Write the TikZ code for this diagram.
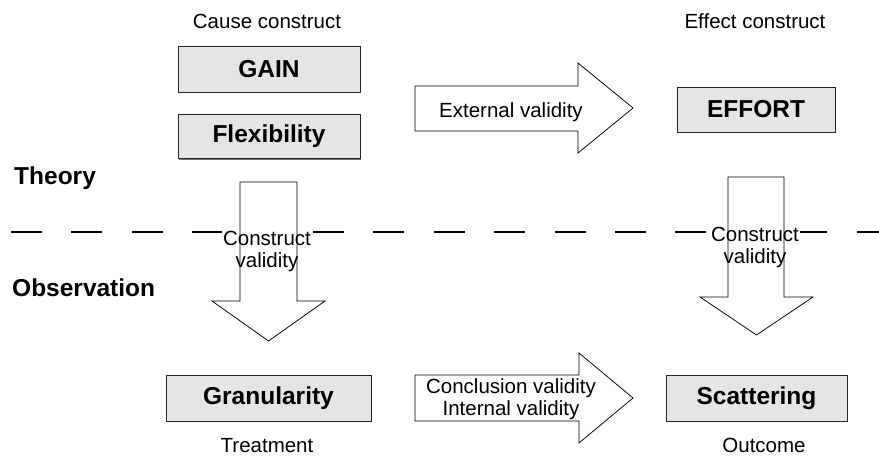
\documentclass[tikz,border=0pt]{standalone}
\usepackage{fontspec}
\setmainfont{Liberation Sans}
\usetikzlibrary{shadows}
\begin{document}
\begin{tikzpicture}[x=1pt,y=-1pt,
  construct/.style={draw=black!85, line width=0.8pt, fill=black!10,
    inner sep=0pt, font=\fontsize{24.5}{26}\selectfont\bfseries,
    drop shadow={shadow xshift=0.8pt, shadow yshift=-1.3pt, fill=black!55, opacity=1}},
  caption/.style={inner sep=0pt, font=\fontsize{20.5}{22}\selectfont},
  level/.style={inner sep=0pt, font=\fontsize{24.5}{26}\selectfont\bfseries},
  arrowtext/.style={inner sep=1pt, align=center, font=\fontsize{20.5}{22}\selectfont},
  blockarrow/.style={draw=black, line width=0.75pt, line join=miter},
  divider/.style={line width=2.6pt, dash pattern=on 31pt off 29.4pt}]

% canvas
\fill[white] (0,0) rectangle (879,456);
\useasboundingbox (0,0) rectangle (879,456);

% theory / observation divider
\coordinate (divL) at (11,232);
\coordinate (divR) at (879,232);
\draw[divider] (divL) -- (divR);

% level labels
\node[level, anchor=base west] (theory) at (14,184.5) {Theory};
\node[level, anchor=base west] (observation) at (12,296) {Observation};

% column headings and footers
\node[caption, anchor=base] (cause) at (267,28) {Cause construct};
\node[caption, anchor=base] (effect) at (755,28) {Effect construct};
\node[caption, anchor=base] (treatment) at (267,452) {Treatment};
\node[caption, anchor=base] (outcome) at (764,452) {Outcome};

% constructs and observations
\node[construct, minimum width=182pt, minimum height=46pt] (gain) at (269,69) {GAIN};
\node[construct, minimum width=182pt, minimum height=44pt] (flex) at (269,136.5) {Flexibility};
\node[construct, minimum width=158pt, minimum height=45pt] (effort) at (756,109.5) {EFFORT};
\node[construct, minimum width=205pt, minimum height=46pt] (gran) at (268.5,398) {Granularity};
\node[construct, minimum width=181pt, minimum height=46pt] (scat) at (756.5,398) {Scattering};

% validity labels (white ground hides the divider behind them)
\node[arrowtext, fill=white] (cvleft) at (267,251) {Construct\\validity};
\node[arrowtext, fill=white] (cvright) at (755,247) {Construct\\validity};
\node[arrowtext] (ext) at (511,112) {External validity};
\node[arrowtext] (concl) at (511,399) {Conclusion validity\\Internal validity};

% block arrows
\draw[blockarrow] (415,86) -- (578,86) -- (578,63) -- (633,108) -- (578,153)
  -- (578,131) -- (415,131) -- cycle;
\draw[blockarrow] (415,375) -- (579,375) -- (579,353) -- (633,398) -- (579,443)
  -- (579,421) -- (415,421) -- cycle;
\draw[blockarrow] (240,182) -- (297,182) -- (297,301) -- (325,301) -- (268.5,341)
  -- (212,301) -- (240,301) -- cycle;
\draw[blockarrow] (728,177) -- (784,177) -- (784,297) -- (813,297) -- (756.5,335)
  -- (700,297) -- (728,297) -- cycle;
\end{tikzpicture}
\end{document}
